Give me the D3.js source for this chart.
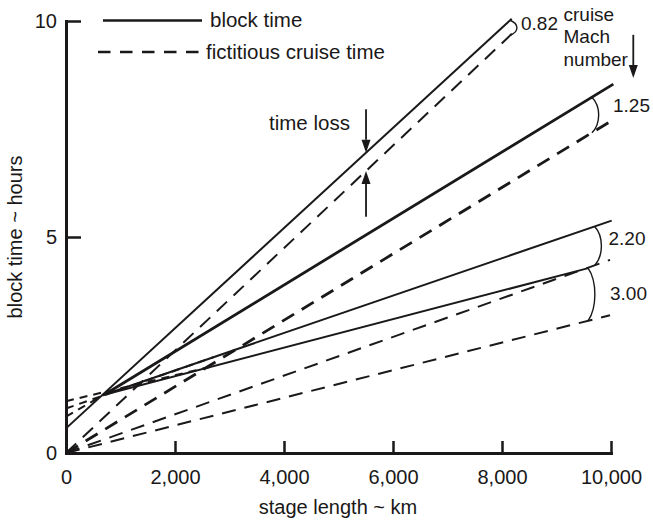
<!DOCTYPE html>
<html>
<head>
<meta charset="utf-8">
<script src="https://cdn.jsdelivr.net/npm/d3@7"></script>
<style>
  html, body { margin: 0; padding: 0; background: #fff; }
  svg { display: block; font-family: "Liberation Sans", Arial, Helvetica, sans-serif; }
</style>
</head>
<body>
<svg id="chart" width="653" height="521"></svg>
<script>
// ---- data -------------------------------------------------------------
const xTicks = [0, 2000, 4000, 6000, 8000, 10000];          // stage length, km
const yTicks = [0, 5, 10];                                   // block time, hours
const cruiseMach = ["0.82", "1.25", "2.20", "3.00"];

// fictitious cruise time: straight from the origin to the end point
const fictitiousEndKm    = [8196, 9982, 9982, 9982];
const fictitiousEndHours = [9.72, 7.67, 4.47, 3.19];

// block time: straight segment between start and end point
const blockStartKm    = [0,    700,   700,   700];
const blockStartHours = [0.57, 1.35,  1.35,  1.35];
const blockEndKm      = [8178, 10043, 10012, 9584];
const blockEndHours   = [10.05, 8.54, 5.38,  4.28];

// straight-line block time extrapolated back to zero stage length
const extensionZeroHours = [null, 0.84, 1.03, 1.20];
const extensionEndKm     = [null, 700,  2700, 2700];

// stage length where each Mach bracket joins block and cruise line
const bracketKm = [8150, 9650, 9700, 9580];

// time-loss arrows (km, tail hours); tips sit on the M 0.82 lines
const timeLossKm = 5505;
const timeLossTopTail = 7.96;
const timeLossBottomTail = 5.47;

// "cruise Mach number" arrow
const machArrowKm = 10409;
const machArrowFrom = 9.68;
const machArrowTo = 8.68;

// ---- layout -----------------------------------------------------------
const ink = "#1a1818";
const axisFont = 20;
const noteFont = 20.5;
const machFont = 19;
const lineWidth = [2.0, 2.8, 2.0, 2.0];
const machLabelPos = [[521, 29.5], [613, 112], [608.5, 245], [610, 299.5]];

const svg = d3.select("#chart");
const x = d3.scaleLinear().domain([0, 10000]).range([66, 611]);
const y = d3.scaleLinear().domain([0, 10]).range([453, 21]);
const line = d3.line().x(d => x(d[0])).y(d => y(d[1]));

const blockAt = (i, km) =>
  blockStartHours[i] + (blockEndHours[i] - blockStartHours[i]) *
  (km - blockStartKm[i]) / (blockEndKm[i] - blockStartKm[i]);
const fictAt = (i, km) => fictitiousEndHours[i] * km / fictitiousEndKm[i];

// ---- axes -------------------------------------------------------------
const gx = svg.append("g")
  .attr("transform", `translate(0,${y(0)})`)
  .call(d3.axisBottom(x).tickValues(xTicks).tickSize(-12).tickSizeOuter(0)
        .tickPadding(17).tickFormat(d3.format(",")));
const gy = svg.append("g")
  .attr("transform", `translate(${x(0)},0)`)
  .call(d3.axisLeft(y).tickValues(yTicks).tickSize(-15).tickSizeOuter(0)
        .tickPadding(9).tickFormat(d3.format("d")));

[gx, gy].forEach(g => {
  g.select(".domain").attr("stroke", ink).attr("stroke-width", 3).attr("stroke-linecap", "square");
  g.selectAll(".tick line").attr("stroke", ink).attr("stroke-width", 2.5);
  g.selectAll(".tick text").attr("fill", ink).style("font-size", axisFont + "px")
    .style("font-family", "\"Liberation Sans\", Arial, Helvetica, sans-serif");
});

svg.append("text")
  .attr("x", 338).attr("y", 514)
  .attr("text-anchor", "middle").attr("fill", ink).style("font-size", axisFont + "px")
  .text("stage length ~ km");
svg.append("text")
  .attr("transform", "translate(22,237) rotate(-90)")
  .attr("text-anchor", "middle").attr("fill", ink).style("font-size", axisFont + "px")
  .text("block time ~ hours");

// ---- lines ------------------------------------------------------------
const plot = svg.append("g").attr("fill", "none").attr("stroke", ink);

cruiseMach.forEach((m, i) => {
  plot.append("path")
    .attr("d", line([[0, 0], [fictitiousEndKm[i], fictitiousEndHours[i]]]))
    .attr("stroke-width", lineWidth[i]).attr("stroke-dasharray", "14,9");

  plot.append("path")
    .attr("d", line([[blockStartKm[i], blockStartHours[i]], [blockEndKm[i], blockEndHours[i]]]))
    .attr("stroke-width", lineWidth[i]);

  if (extensionZeroHours[i] !== null) {
    plot.append("path")
      .attr("d", line([[0, extensionZeroHours[i]], [extensionEndKm[i], blockAt(i, extensionEndKm[i])]]))
      .attr("stroke-width", 2).attr("stroke-dasharray", "8,6");
  }

  // bracket joining block time and cruise time for this Mach number
  const bx = x(bracketKm[i]);
  const y1 = y(blockAt(i, bracketKm[i]));
  const y2 = y(fictAt(i, bracketKm[i]));
  const bulge = 9;
  plot.append("path")
    .attr("d", `M${bx},${y1} C${bx + bulge},${y1 + (y2 - y1) * 0.25} ${bx + bulge},${y1 + (y2 - y1) * 0.75} ${bx},${y2}`)
    .attr("stroke-width", 1.4);

  svg.append("text")
    .attr("x", machLabelPos[i][0]).attr("y", machLabelPos[i][1])
    .attr("fill", ink).style("font-size", machFont + "px")
    .text(m);
});

// ---- arrows -----------------------------------------------------------
function arrow(x0, yFrom, yTo) {
  const dir = yTo > yFrom ? 1 : -1;
  const len = 13, half = 4.5;
  plot.append("path")
    .attr("d", `M${x0},${yFrom} V${yTo - dir * len}`)
    .attr("stroke-width", 1.8);
  svg.append("path")
    .attr("d", `M${x0},${yTo} L${x0 - half},${yTo - dir * len} L${x0 + half},${yTo - dir * len} Z`)
    .attr("fill", ink);
}
arrow(x(timeLossKm), y(timeLossTopTail), y(blockAt(0, timeLossKm)));
arrow(x(timeLossKm), y(timeLossBottomTail), y(fictAt(0, timeLossKm)));
arrow(x(machArrowKm), y(machArrowFrom), y(machArrowTo));

svg.append("text")
  .attr("x", 269).attr("y", 130)
  .attr("fill", ink).style("font-size", noteFont + "px")
  .text("time loss");

const machTitle = svg.append("text").attr("fill", ink).style("font-size", machFont + "px");
["cruise", "Mach", "number"].forEach((t, k) => {
  machTitle.append("tspan").attr("x", 563.5).attr("y", 20.7 + k * 22.5).text(t);
});

// ---- legend -----------------------------------------------------------
const legend = svg.append("g");
legend.append("line").attr("x1", 103).attr("x2", 202).attr("y1", 20.5).attr("y2", 20.5)
  .attr("stroke", ink).attr("stroke-width", 2.4);
legend.append("text").attr("x", 210).attr("y", 27.3)
  .attr("fill", ink).style("font-size", noteFont + "px").text("block time");
legend.append("line").attr("x1", 98).attr("x2", 202).attr("y1", 52).attr("y2", 52)
  .attr("stroke", ink).attr("stroke-width", 2.4).attr("stroke-dasharray", "12.5,9.5");
legend.append("text").attr("x", 206).attr("y", 59)
  .attr("fill", ink).style("font-size", noteFont + "px").text("fictitious cruise time");
</script>
</body>
</html>
